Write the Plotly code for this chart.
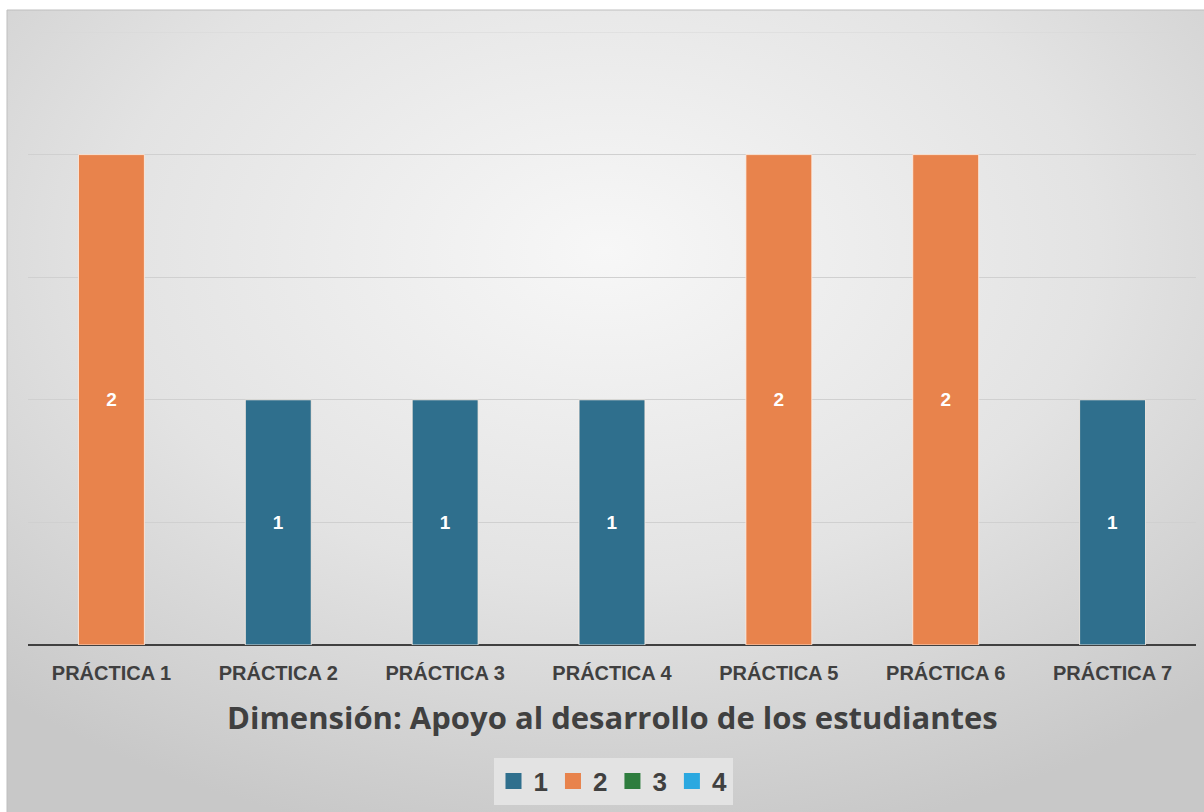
import base64
import plotly.graph_objects as go

# Categories and series values
practicas = ["PRÁCTICA 1", "PRÁCTICA 2", "PRÁCTICA 3", "PRÁCTICA 4",
             "PRÁCTICA 5", "PRÁCTICA 6", "PRÁCTICA 7"]
serie_1 = [None, 1, 1, 1, None, None, 1]
serie_2 = [2, None, None, None, 2, 2, None]
serie_3 = [None] * 7
serie_4 = [None] * 7
series_names = ["1", "2", "3", "4"]
series_colors = ["#2F6F8D", "#E8834C", "#2E7D3E", "#2BA8E0"]

W, H = 1204, 812
L, R, T, B = 28, 8, 32, 167
pw, ph = W - L - R, H - T - B

fig = go.Figure()
for name, vals, col in zip(series_names, [serie_1, serie_2, serie_3, serie_4], series_colors):
    fig.add_trace(go.Bar(
        x=practicas, y=vals, name=name, legendgroup=name, showlegend=False,
        marker=dict(color=col, line=dict(color="rgba(255,240,230,0.8)", width=1)),
        text=[("" if v is None else str(v)) for v in vals],
        textposition="inside", insidetextanchor="middle",
        textfont=dict(color="white", size=19, family="Liberation Sans"),
        texttemplate="<b>%{text}</b>",
        hoverinfo="skip",
    ))
# Legend entries with square swatches
for name, col in zip(series_names, series_colors):
    fig.add_trace(go.Scatter(
        x=[practicas[0]], y=[None], mode="markers", name=name, legendgroup=name,
        marker=dict(symbol="square", size=18, color=col),
        hoverinfo="skip",
    ))

# Radial gradient backdrop for the chart area
svg = (
    '<svg xmlns="http://www.w3.org/2000/svg" width="1000" height="1000" '
    'viewBox="0 0 1000 1000" preserveAspectRatio="none">'
    '<defs><radialGradient id="g" cx="50%" cy="30%" r="75%">'
    '<stop offset="0%" stop-color="#F7F7F7"/>'
    '<stop offset="55%" stop-color="#E3E3E3"/>'
    '<stop offset="100%" stop-color="#C8C8C8"/>'
    '</radialGradient></defs>'
    '<rect width="1000" height="1000" fill="url(#g)"/></svg>'
)
src = "data:image/svg+xml;base64," + base64.b64encode(svg.encode()).decode()

def px_x(p):
    return (p - L) / pw

def px_y(p):
    return (H - B - p) / ph

x0, x1 = px_x(7), px_x(W)
y0, y1 = px_y(H), px_y(10)

fig.update_layout(
    width=W, height=H,
    margin=dict(l=L, r=R, t=T, b=B),
    paper_bgcolor="white",
    plot_bgcolor="rgba(0,0,0,0)",
    barmode="overlay",
    bargap=0.605,
    images=[dict(source=src, xref="paper", yref="paper", x=x0, y=y1,
                 sizex=x1 - x0, sizey=y1 - y0, sizing="stretch",
                 xanchor="left", yanchor="top", layer="below")],
    shapes=[
        dict(type="rect", xref="paper", yref="paper", x0=x0, x1=x1 + 0.01,
             y0=y0 - 0.01, y1=y1, line=dict(color="#BEBEBE", width=1),
             layer="below"),
        dict(type="line", xref="paper", yref="y", x0=0, x1=1, y0=2.5, y1=2.5,
             line=dict(color="#D8D8D8", width=1), layer="below"),
    ],
    xaxis=dict(
        showgrid=False, showline=False, ticks="",
        ticklabelstandoff=14,
        tickfont=dict(family="Liberation Sans", size=20, color="#404040",
                      weight="bold"),
    ),
    yaxis=dict(
        range=[0, 2.5], dtick=0.5, showticklabels=False,
        showgrid=True, gridcolor="#D0D0D0", gridwidth=1,
        zeroline=True, zerolinecolor="#404040", zerolinewidth=2,
        showline=False,
    ),
    legend=dict(
        orientation="h", x=px_x(613), y=px_y(781),
        xanchor="center", yanchor="middle",
        bgcolor="#E3E3E3",
        font=dict(family="Liberation Sans", size=26, color="#404040",
                  weight="bold"),
        itemwidth=30, traceorder="normal",
    ),
    annotations=[dict(
        text="<b>Dimensión: Apoyo al desarrollo de los estudiantes</b>",
        xref="paper", yref="paper", x=px_x(612), y=px_y(717),
        xanchor="center", yanchor="middle", showarrow=False,
        font=dict(family="Open Sans", size=31, color="#404040"),
    )],
    font=dict(family="Liberation Sans"),
)

fig.write_html("out.html")
